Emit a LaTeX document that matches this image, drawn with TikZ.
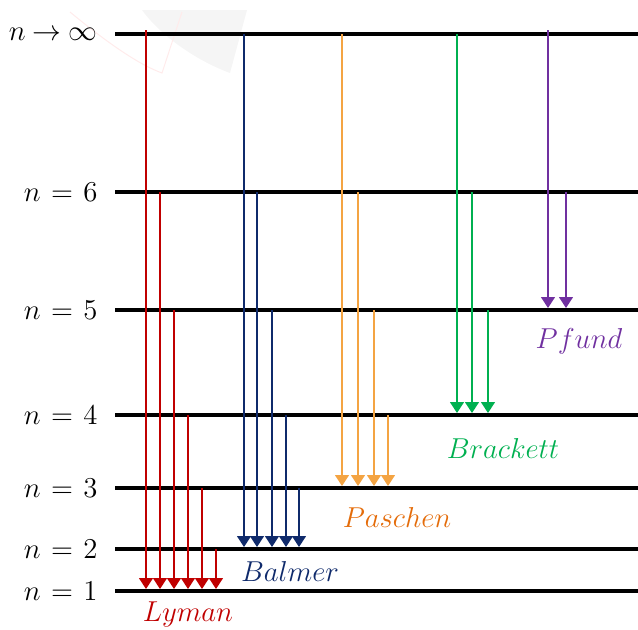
\documentclass[tikz,border=0pt]{standalone}
\usetikzlibrary{arrows.meta}
\definecolor{lymanc}{HTML}{C00000}
\definecolor{balmerc}{HTML}{0F2A6B}
\definecolor{paschenc}{HTML}{F4A443}
\definecolor{paschent}{HTML}{E46C0A}
\definecolor{brackettc}{HTML}{00B050}
\definecolor{pfundc}{HTML}{7030A0}
\begin{document}
\begin{tikzpicture}[x=0.5pt,y=-0.5pt,
  level/.style={line width=2pt,black},
  lvllabel/.style={anchor=east,font=\Large,inner sep=0pt},
  trans/.style={line width=0.6pt,-{Triangle[length=5.5pt,width=7pt]}},
  series/.style={font=\Large,inner sep=0pt}]
\useasboundingbox (0,0) rectangle (638,629);
% faint watermark
\fill[gray!8] (142,10) -- (247,10) -- (230,73) .. controls (195,60) and (160,35) .. cycle;
\draw[red!8,line width=0.5pt] (70,12) .. controls (110,45) and (140,65) .. (162,73) -- (182,12);
% levels
\foreach \nm/\yy/\lab in {Linf/34/{n\mskip4.5mu{\to}\mskip4.5mu\infty},L6/192/{n\mskip1.5mu=\mskip1.5mu6},L5/310/{n\mskip1.5mu=\mskip1.5mu5},L4/415/{n\mskip1.5mu=\mskip1.5mu4},L3/488/{n\mskip1.5mu=\mskip1.5mu3},L2/549/{n\mskip1.5mu=\mskip1.5mu2},L1/591/{n\mskip1.5mu=\mskip1.5mu1}}{
  \coordinate (\nm a) at (115,\yy);
  \coordinate (\nm b) at (638,\yy);
  \draw[level] (\nm a) -- (\nm b);
  \node[lvllabel] (\nm t) at (98,\yy) {$\lab$};
}
% Lyman
\foreach \xx/\yy in {146/30,160/192,174/310,188/415,202/488,216/549}{
  \coordinate (ly\xx) at (\xx,\yy);
  \coordinate (lye\xx) at (\xx,589);
  \draw[trans,lymanc] (ly\xx) -- (lye\xx);
}
% Balmer
\foreach \xx/\yy in {244/34,257/192,272/310,286/415,299/488}{
  \coordinate (ba\xx) at (\xx,\yy);
  \coordinate (bae\xx) at (\xx,547);
  \draw[trans,balmerc] (ba\xx) -- (bae\xx);
}
% Paschen
\foreach \xx/\yy in {342/34,358/192,374/310,388/415}{
  \coordinate (pa\xx) at (\xx,\yy);
  \coordinate (pae\xx) at (\xx,486);
  \draw[trans,paschenc] (pa\xx) -- (pae\xx);
}
% Brackett
\foreach \xx/\yy in {457/34,472/192,488/310}{
  \coordinate (br\xx) at (\xx,\yy);
  \coordinate (bre\xx) at (\xx,413);
  \draw[trans,brackettc] (br\xx) -- (bre\xx);
}
% Pfund
\foreach \xx/\yy in {548/30,566/192}{
  \coordinate (pf\xx) at (\xx,\yy);
  \coordinate (pfe\xx) at (\xx,308);
  \draw[trans,pfundc] (pf\xx) -- (pfe\xx);
}
% series labels
\node[series,text=lymanc] (lyman) at (188,614) {$Lyman$};
\node[series,text=balmerc] (balmer) at (290,571) {$Balmer$};
\node[series,text=paschent] (paschen) at (397,517) {$Paschen$};
\node[series,text=brackettc] (brackett) at (503,448) {$Brackett$};
\node[series,text=pfundc] (pfund) at (579,341) {$Pfund$};
\end{tikzpicture}
\end{document}
